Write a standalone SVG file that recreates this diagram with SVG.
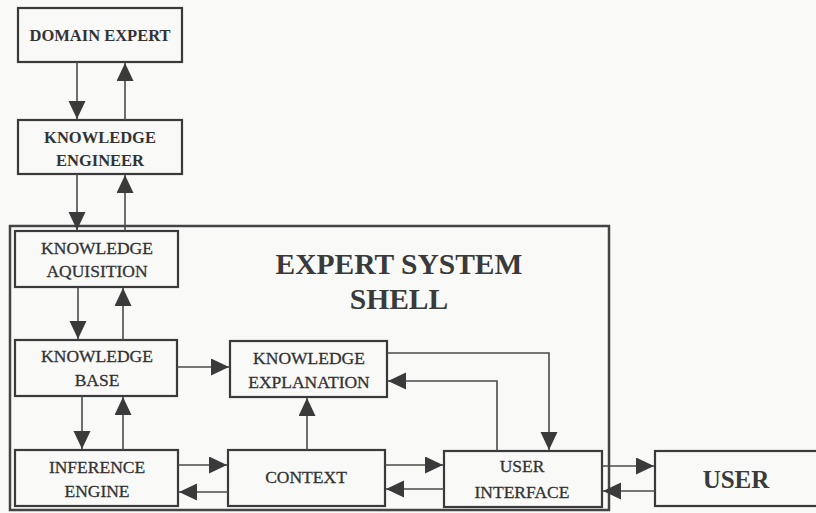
<svg xmlns="http://www.w3.org/2000/svg" width="816" height="513" viewBox="0 0 816 513">
<defs>
<style>
.box{fill:none;stroke:#3a3a3a;stroke-width:2.2}
.shell{fill:none;stroke:#444;stroke-width:2.5}
.ln{fill:none;stroke:#4a4a4a;stroke-width:1.6;marker-end:url(#ah)}
.t{font-family:"Liberation Serif","Times New Roman",serif;font-size:17.5px;fill:#333;stroke:#333;stroke-width:0.3;text-anchor:middle}
.tb{font-family:"Liberation Serif","Times New Roman",serif;font-size:16.5px;font-weight:bold;fill:#333;text-anchor:middle}
.big{font-family:"Liberation Serif","Times New Roman",serif;font-size:29.5px;font-weight:bold;fill:#3a3a3a;text-anchor:middle}
</style>
<marker id="ah" markerUnits="userSpaceOnUse" markerWidth="19" markerHeight="19" refX="18" refY="8.5" orient="auto" viewBox="0 0 19 19">
<path d="M0,0 L18,8.5 L0,17 z" fill="#3a3a3a"/>
</marker>
</defs>
<rect width="816" height="513" fill="#f9f9f8"/>
<g id="shell">
<rect class="shell" x="10" y="226" width="599" height="284"/>
<text class="big" x="399" y="274">EXPERT SYSTEM</text>
<text class="big" x="399" y="309">SHELL</text>
</g>
<g id="domain-expert">
<rect class="box" x="18" y="8" width="164" height="54"/>
<text class="tb" x="100" y="41">DOMAIN EXPERT</text>
</g>
<g id="knowledge-engineer">
<rect class="box" x="18" y="120" width="164" height="54"/>
<text class="tb" x="100" y="143">KNOWLEDGE</text>
<text class="tb" x="100" y="166">ENGINEER</text>
</g>
<g id="knowledge-aquisition">
<rect class="box" x="15" y="231" width="163" height="56"/>
<text class="t" x="97" y="254">KNOWLEDGE</text>
<text class="t" x="97" y="277">AQUISITION</text>
</g>
<g id="knowledge-base">
<rect class="box" x="15" y="340" width="162" height="56"/>
<text class="t" x="97" y="362">KNOWLEDGE</text>
<text class="t" x="97" y="386">BASE</text>
</g>
<g id="inference-engine">
<rect class="box" x="15" y="450" width="163" height="56"/>
<text class="t" x="97" y="473">INFERENCE</text>
<text class="t" x="97" y="497">ENGINE</text>
</g>
<g id="knowledge-explanation">
<rect class="box" x="230" y="341" width="157" height="56"/>
<text class="t" x="309" y="364">KNOWLEDGE</text>
<text class="t" x="309" y="388">EXPLANATION</text>
</g>
<g id="context">
<rect class="box" x="228" y="450" width="157" height="56"/>
<text class="t" x="306" y="483">CONTEXT</text>
</g>
<g id="user-interface">
<rect class="box" x="444" y="451" width="158" height="56"/>
<text class="t" x="522" y="472">USER</text>
<text class="t" x="522" y="498">INTERFACE</text>
</g>
<g id="user">
<rect class="box" x="655" y="451" width="170" height="55"/>
<text class="big" x="736" y="488" style="font-size:25px">USER</text>
</g>
<g id="connectors">
<line class="ln" x1="77" y1="62" x2="77" y2="119"/>
<line class="ln" x1="125" y1="120" x2="125" y2="63"/>
<line class="ln" x1="77" y1="174" x2="77" y2="230"/>
<line class="ln" x1="125" y1="231" x2="125" y2="175"/>
<line class="ln" x1="78" y1="287" x2="78" y2="339"/>
<line class="ln" x1="123" y1="340" x2="123" y2="288"/>
<line class="ln" x1="82" y1="396" x2="82" y2="449"/>
<line class="ln" x1="123" y1="450" x2="123" y2="397"/>
<line class="ln" x1="177" y1="367" x2="229" y2="367"/>
<line class="ln" x1="178" y1="465" x2="227" y2="465"/>
<line class="ln" x1="228" y1="492" x2="179" y2="492"/>
<line class="ln" x1="307" y1="450" x2="307" y2="398"/>
<line class="ln" x1="385" y1="465" x2="443" y2="465"/>
<line class="ln" x1="444" y1="489" x2="386" y2="489"/>
<polyline class="ln" points="387,353 549,353 549,450"/>
<polyline class="ln" points="497,451 497,381 388,381"/>
<line class="ln" x1="602" y1="466" x2="654" y2="466"/>
<line class="ln" x1="655" y1="491" x2="603" y2="491"/>
</g>
</svg>
